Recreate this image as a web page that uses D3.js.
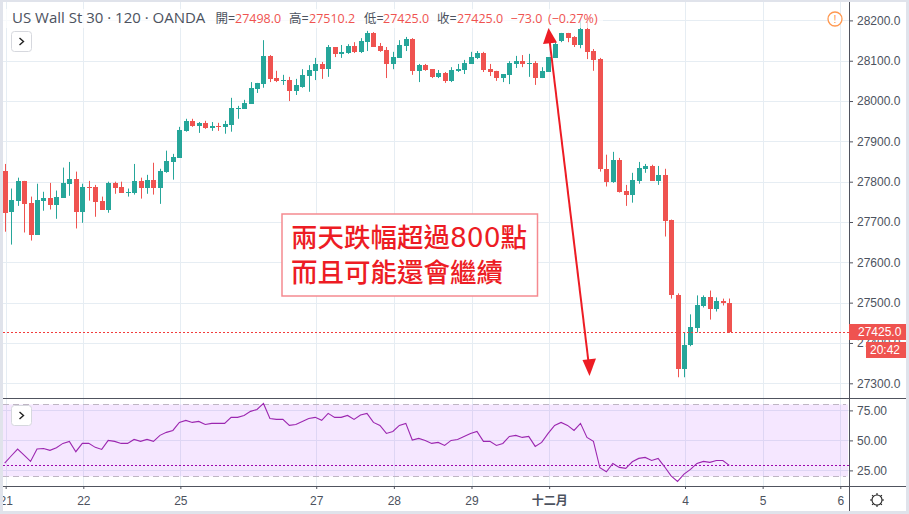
<!DOCTYPE html>
<html>
<head>
<meta charset="utf-8">
<script src="https://cdn.jsdelivr.net/npm/d3@7"></script>
<style>
  html, body { margin: 0; padding: 0; background: #fff; overflow: hidden; }
  svg { display: block; }
  text { font-family: "Liberation Sans", sans-serif; }
</style>
</head>
<body>
<script>
const opens = [27827,27724,27753,27802,27748,27669,27753,27760,27743,27760,27795,27807,27726,27787,27787,27753,27731,27797,27787,27773,27773,27802,27785,27805,27785,27825,27849,27859,27926,27951,27938,27946,27934,27938,27936,27941,27981,27981,27993,28030,28042,28112,28057,28051,28052,28025,28035,28062,28075,28092,28079,28134,28117,28119,28136,28122,28146,28169,28136,28127,28092,28107,28136,28154,28075,28089,28079,28060,28070,28050,28075,28077,28092,28107,28119,28079,28075,28057,28065,28092,28099,28094,28094,28057,28072,28107,28149,28169,28159,28139,28179,28124,28104,27832,27800,27854,27778,27768,27802,27832,27839,27802,27817,27706,27520,27337,27394,27436,27491,27513,27483,27503,27498];
const highs = [27844,27783,27810,27802,27763,27795,27775,27797,27778,27835,27849,27825,27795,27802,27792,27763,27800,27800,27800,27783,27844,27810,27817,27847,27832,27877,27869,27936,27956,27956,27948,27951,27948,27946,27951,28008,27988,28003,28047,28045,28151,28114,28075,28065,28060,28055,28079,28089,28107,28097,28139,28134,28139,28141,28146,28156,28174,28171,28144,28134,28122,28151,28159,28156,28092,28092,28079,28077,28072,28084,28092,28102,28122,28124,28122,28092,28075,28067,28099,28112,28114,28117,28099,28084,28109,28146,28169,28169,28161,28201,28196,28129,28107,27867,27874,27859,27792,27822,27849,27844,27842,27839,27832,27706,27523,27426,27471,27518,27518,27530,27513,27510,27510.2];
const lows = [27676,27644,27740,27674,27654,27669,27728,27731,27708,27760,27765,27684,27698,27753,27713,27731,27723,27770,27773,27763,27768,27758,27770,27768,27745,27822,27805,27859,27924,27936,27921,27931,27926,27926,27919,27924,27956,27981,27993,28020,28033,28047,28047,28040,28000,28015,28033,28023,28052,28055,28060,28109,28107,28117,28119,28119,28124,28134,28122,28057,28079,28107,28124,28065,28047,28075,28057,28057,28045,28047,28072,28067,28092,28104,28072,28062,28050,28047,28042,28082,28084,28060,28040,28057,28072,28107,28146,28146,28134,28131,28104,28075,27825,27788,27797,27773,27740,27748,27795,27822,27802,27792,27664,27510,27315,27315,27392,27426,27488,27458,27478,27493,27425];
const closes = [27724,27755,27802,27745,27669,27755,27760,27743,27763,27797,27807,27726,27787,27785,27750,27731,27797,27785,27773,27775,27802,27785,27805,27785,27827,27852,27862,27929,27951,27938,27946,27934,27938,27937,27943,27983,27983,27995,28033,28045,28112,28055,28050,28052,28025,28040,28065,28077,28092,28079,28134,28117,28122,28136,28122,28149,28169,28134,28124,28092,28109,28139,28154,28075,28089,28077,28060,28070,28050,28077,28079,28094,28109,28119,28077,28072,28057,28067,28094,28099,28092,28094,28057,28075,28109,28141,28169,28156,28139,28179,28122,28102,27830,27800,27854,27775,27768,27805,27835,27839,27802,27817,27703,27519,27337,27396,27439,27493,27513,27483,27503,27498,27425];
const rsiValues = [31.1,37,42.8,37.8,32.5,42.8,43.3,41.7,43.9,47.5,49.2,40.6,47.5,47.5,44.2,42.5,50,49.2,47.5,47.5,50.8,49.2,50.8,49.2,54.2,56.7,58.3,65,66.7,65,65.8,63.3,64.2,64.2,64.2,69.2,69.2,70.8,74.2,75.8,80.8,68.3,67.5,67.5,62.5,63.3,65.8,68.3,69.2,66.7,72.5,69.2,69.2,70.8,67.5,71.1,72.5,65,62.5,55.8,57.5,62.5,64.2,50.3,51.7,50,47.5,48.3,45.8,50,50.8,53.3,55.8,57.5,49.2,49.2,45.8,47.5,53.3,54.2,52.5,53.3,45,48.3,55.8,62.5,65,62.5,58.3,64.2,52.5,49.2,27.2,23.9,30.8,27.5,26.7,32.2,35,35.8,33.3,35,28,20.5,15.8,21.9,25.8,30.8,32.5,31.7,33.3,33.3,29.2];
const priceTicks = [27300,27400,27500,27600,27700,27800,27900,28000,28100,28200];
const rsiTicks = [25,50,75];
const dayBars = [0,12,27,48,60,72,84,105,117,129];
const dayLabels = ['21','22','25','27','28','29','十二月','4','5','6'];
const lastPrice = 27425;

const GREEN = '#26a69a', RED = '#ef5350', GRID = '#e6edf3', LINE = '#50535e', TXT = '#4c525e';

const svg = d3.select('body').append('svg').attr('width', 909).attr('height', 514);

const x = d3.scaleLinear().domain([0, 112]).range([4.67, 729.3]);
const y = d3.scaleLinear().domain([27300, 28200]).range([383.3, 20.4]);
const yRsi = d3.scaleLinear().domain([25, 75]).range([470.4, 410.4]);

svg.append('clipPath').attr('id', 'pane').append('rect')
  .attr('x', 3).attr('y', 2).attr('width', 846).attr('height', 509);

const chart = svg.append('g').attr('clip-path', 'url(#pane)');

// grid
chart.selectAll('.vgrid').data(dayBars).enter().append('line')
  .attr('x1', d => Math.round(x(d)) + 1.5).attr('x2', d => Math.round(x(d)) + 1.5)
  .attr('y1', 2).attr('y2', 486)
  .attr('stroke', GRID).attr('stroke-width', 1);
chart.selectAll('.hgrid').data(priceTicks).enter().append('line')
  .attr('x1', 3).attr('x2', 849)
  .attr('y1', d => Math.round(y(d)) + 0.5).attr('y2', d => Math.round(y(d)) + 0.5)
  .attr('stroke', GRID).attr('stroke-width', 1);

// candles
const candles = chart.selectAll('.candle').data(opens).enter().append('g');
candles.append('line')
  .attr('x1', (d, i) => Math.round(x(i)) + 0.5).attr('x2', (d, i) => Math.round(x(i)) + 0.5)
  .attr('y1', (d, i) => y(highs[i])).attr('y2', (d, i) => y(lows[i]))
  .attr('stroke', (d, i) => closes[i] >= opens[i] ? GREEN : RED);
candles.append('rect')
  .attr('x', (d, i) => Math.round(x(i)) - 2).attr('width', 5)
  .attr('y', (d, i) => Math.round(y(Math.max(opens[i], closes[i]))))
  .attr('height', (d, i) => Math.max(1, Math.round(Math.abs(y(opens[i]) - y(closes[i])))))
  .attr('fill', (d, i) => closes[i] >= opens[i] ? GREEN : RED);

// last price line
chart.append('line')
  .attr('x1', 3).attr('x2', 849).attr('y1', Math.floor(y(lastPrice)) + 0.5).attr('y2', Math.floor(y(lastPrice)) + 0.5)
  .attr('stroke', '#f23b3b').attr('stroke-dasharray', '2 2');

// white strip behind the legend
chart.append('rect').attr('x', 3).attr('y', 9).attr('width', 600).attr('height', 19)
  .attr('fill', '#fff').attr('opacity', 0.72);

// rsi pane
chart.append('rect').attr('x', 3).attr('y', 398.5).attr('width', 846).attr('height', 88).attr('fill', '#fff');
chart.selectAll('.vgrid2').data(dayBars).enter().append('line')
  .attr('x1', d => Math.round(x(d)) + 1.5).attr('x2', d => Math.round(x(d)) + 1.5)
  .attr('y1', 399).attr('y2', 486)
  .attr('stroke', GRID);
chart.selectAll('.rgrid').data(rsiTicks).enter().append('line')
  .attr('x1', 3).attr('x2', 849)
  .attr('y1', d => Math.round(yRsi(d)) + 0.5).attr('y2', d => Math.round(yRsi(d)) + 0.5)
  .attr('stroke', GRID);
chart.append('rect')
  .attr('x', 3).attr('width', 845)
  .attr('y', yRsi(80)).attr('height', yRsi(20) - yRsi(80))
  .attr('fill', '#9915ff').attr('opacity', 0.1);
[80, 20].forEach(v => {
  chart.append('line')
    .attr('x1', 3).attr('x2', 846).attr('y1', Math.round(yRsi(v)) + 0.5).attr('y2', Math.round(yRsi(v)) + 0.5)
    .attr('stroke', '#bfb6c4').attr('stroke-dasharray', '6 4');
});
chart.append('line')
  .attr('x1', 3).attr('x2', 849)
  .attr('y1', Math.floor(yRsi(rsiValues[rsiValues.length - 1])) + 0.5).attr('y2', Math.floor(yRsi(rsiValues[rsiValues.length - 1])) + 0.5)
  .attr('stroke', '#9c06ad').attr('stroke-dasharray', '2 2');
chart.append('path')
  .datum(rsiValues)
  .attr('fill', 'none').attr('stroke', '#9c27b0').attr('stroke-width', 1.1)
  .attr('d', d3.line().x((d, i) => x(i)).y(d => yRsi(d)));

// axes
const priceAxis = d3.axisRight(y).tickValues(priceTicks).tickFormat(d3.format('.1f')).tickSize(4).tickPadding(4);
const rsiAxis = d3.axisRight(yRsi).tickValues(rsiTicks).tickFormat(d3.format('.2f')).tickSize(4).tickPadding(4);
const timeAxis = d3.axisBottom(x).tickValues(dayBars).tickFormat((d, i) => dayLabels[i]).tickSize(3).tickPadding(7);

[priceAxis, rsiAxis].forEach(a => {
  const g = svg.append('g').attr('transform', 'translate(849,0)').call(a);
  g.select('.domain').remove();
  g.selectAll('line').attr('stroke', LINE);
  g.selectAll('text').attr('fill', TXT).style('font-size', '12px').style('font-family', '"Liberation Sans", sans-serif');
});
const tg = chart.append('g').attr('transform', 'translate(1,486)').call(timeAxis);
tg.select('.domain').remove();
tg.selectAll('line').attr('stroke', LINE);
tg.selectAll('text').attr('fill', TXT).style('font-size', '12px').style('font-family', '"Liberation Sans", "Noto Sans CJK TC", sans-serif')
  .style('font-weight', (d, i) => dayLabels[i] == '十二月' ? 'bold' : 'normal');

// frame lines
svg.append('line').attr('x1', 3).attr('x2', 906).attr('y1', 398.5).attr('y2', 398.5).attr('stroke', LINE);
svg.append('line').attr('x1', 3).attr('x2', 906).attr('y1', 486.5).attr('y2', 486.5).attr('stroke', LINE);
svg.append('line').attr('x1', 849.5).attr('x2', 849.5).attr('y1', 2).attr('y2', 511).attr('stroke', LINE);

// price tags
svg.append('rect').attr('x', 849).attr('y', 324).attr('width', 57).attr('height', 16).attr('fill', RED);
svg.append('rect').attr('x', 866).attr('y', 342).attr('width', 40).attr('height', 16).attr('fill', RED);
svg.append('text').attr('x', 858).attr('y', 336).attr('fill', '#fff').attr('font-size', 12).text('27425.0');
svg.append('text').attr('x', 870).attr('y', 354).attr('fill', '#fff').attr('font-size', 12).text('20:42');

// legend
const legendFont = '"Open Sans", "Noto Sans CJK TC", sans-serif';
svg.append('text').attr('x', 12).attr('y', 23).attr('fill', TXT)
  .style('font-family', legendFont).style('font-size', '15px').text('US Wall St 30 · 120 · OANDA');
[
  [215.5, '開=', TXT], [235, '27498.0', RED], [289, '高=', TXT], [309, '27510.2', RED],
  [364, '低=', TXT], [383, '27425.0', RED], [437, '收=', TXT], [457, '27425.0', RED],
  [510.5, '−73.0', RED], [548, '(−0.27%)', RED]
].forEach(d => {
  svg.append('text').attr('x', d[0]).attr('y', 22.5).attr('fill', d[2])
    .style('font-family', legendFont).style('font-size', '12.5px').text(d[1]);
});

// small buttons
[[11.5, 31.5], [11.5, 405.5]].forEach(p => {
  svg.append('rect').attr('x', p[0]).attr('y', p[1]).attr('width', 20).attr('height', 20).attr('rx', 3)
    .attr('fill', '#fff').attr('stroke', '#d6d8de');
  svg.append('path').attr('d', 'M' + (p[0] + 8) + ',' + (p[1] + 6.5) + 'l4,3.5l-4,3.5')
    .attr('fill', 'none').attr('stroke', '#222').attr('stroke-width', 1.4);
});

// warning icon
svg.append('circle').attr('cx', 835).attr('cy', 19).attr('r', 7).attr('fill', '#fff').attr('stroke', '#ff9850').attr('stroke-width', 1.3);
svg.append('text').attr('x', 835).attr('y', 23).attr('text-anchor', 'middle').attr('fill', '#ff9850').attr('font-size', 11).text('!');

// settings icon
svg.append('circle').attr('cx', 877).attr('cy', 500).attr('r', 5).attr('fill', 'none').attr('stroke', '#222').attr('stroke-width', 1.1);
d3.range(8).forEach(k => {
  const a = k * Math.PI / 4;
  svg.append('line')
    .attr('x1', 877 + 5 * Math.cos(a)).attr('y1', 500 + 5 * Math.sin(a))
    .attr('x2', 877 + 7 * Math.cos(a)).attr('y2', 500 + 7 * Math.sin(a))
    .attr('stroke', '#222').attr('stroke-width', 1.1);
});

// annotation box
svg.append('rect').attr('x', 282).attr('y', 214).attr('width', 255.5).attr('height', 82)
  .attr('fill', '#fff').attr('stroke', '#f58a90').attr('stroke-width', 1.5);
const cjkFont = '"Noto Sans CJK TC", sans-serif';
const note1 = svg.append('text').attr('x', 291).attr('y', 247).attr('fill', '#ed1c24')
  .style('font-family', cjkFont).style('font-size', '26.5px').style('font-weight', 500);
note1.append('tspan').text('兩天跌幅超過');
note1.append('tspan').style('font-family', '"DejaVu Sans", sans-serif').text('800');
note1.append('tspan').text('點');
svg.append('text').attr('x', 291).attr('y', 282).attr('fill', '#ed1c24')
  .style('font-family', cjkFont).style('font-size', '26.5px').style('font-weight', 500).text('而且可能還會繼續');

// double arrow
svg.append('line').attr('x1', 549.5).attr('y1', 40).attr('x2', 588.5).attr('y2', 362)
  .attr('stroke', '#ed1c24').attr('stroke-width', 2);
svg.append('path').attr('d', 'M548.5,28L543,44L557,42.5Z').attr('fill', '#ed1c24');
svg.append('path').attr('d', 'M589.5,376L582.5,360L596,358.5Z').attr('fill', '#ed1c24');

// screenshot border
const BORDER = '#e0e3eb';
svg.append('rect').attr('x', 0).attr('y', 0).attr('width', 3).attr('height', 514).attr('fill', BORDER);
svg.append('rect').attr('x', 906).attr('y', 0).attr('width', 3).attr('height', 514).attr('fill', BORDER);
svg.append('rect').attr('x', 0).attr('y', 0).attr('width', 909).attr('height', 2).attr('fill', BORDER);
svg.append('rect').attr('x', 0).attr('y', 511).attr('width', 909).attr('height', 3).attr('fill', BORDER);
</script>
</body>
</html>
